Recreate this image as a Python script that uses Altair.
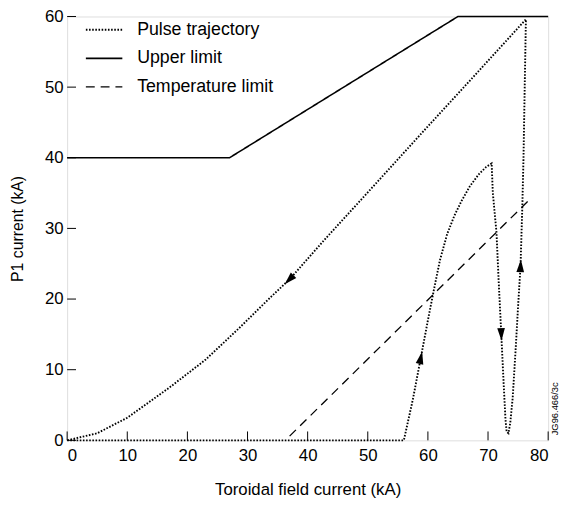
import altair as alt
import pandas as pd

# ---------------- data ----------------
series_names = ["Pulse trajectory", "Upper limit", "Temperature limit"]

# Pulse trajectory (closed loop, in drawing order)
traj_x = [0, 56, 57.5, 58.8, 60.0, 60.9, 62.0, 63.2, 64.4, 65.6, 67.0, 68.5, 69.7, 70.6,
          70.8, 71.4, 71.8, 72.2, 72.6, 72.9, 73.1, 73.4, 73.7, 74.1, 74.6, 75.0, 75.4,
          75.7, 75.9, 76.1, 76.3,
          67.5, 59.3, 50.0, 42.7, 37.0, 33.4, 28.5, 23.0, 16.9, 10.0, 5.0, 0]
traj_y = [0, 0, 5.8, 11.6, 17.0, 20.9, 25.5, 29.2, 31.8, 33.9, 36.0, 37.7, 38.7, 39.2,
          35.0, 29.5, 22.0, 15.1, 8.0, 3.0, 1.2, 1.0, 2.5, 6.0, 13.0, 19.0, 24.6,
          33.0, 40.0, 50.0, 59.6,
          51.4, 43.8, 35.1, 28.3, 22.8, 19.9, 15.8, 11.4, 7.4, 3.2, 1.0, 0]

upper_x = [0, 27, 65, 80]
upper_y = [40, 40, 60, 60]

temp_x = [37.0, 76.7]
temp_y = [0.6, 33.9]

arrow_x = [58.8, 72.2, 75.4, 37.0]
arrow_y = [11.6, 15.1, 24.6, 22.8]
arrow_angle = [12, 178, 3, 225]

x_ticks = [0, 10, 20, 30, 40, 50, 60, 70, 80]
y_ticks = [0, 10, 20, 30, 40, 50, 60]

code_label = "JG96.466/3c"

# ---------------- tables ----------------
rows = []
for i, (x, y) in enumerate(zip(traj_x, traj_y)):
    rows.append({"series": series_names[0], "x": x, "y": y, "o": i})
for i, (x, y) in enumerate(zip(upper_x, upper_y)):
    rows.append({"series": series_names[1], "x": x, "y": y, "o": i})
for i, (x, y) in enumerate(zip(temp_x, temp_y)):
    rows.append({"series": series_names[2], "x": x, "y": y, "o": i})
lines_df = pd.DataFrame(rows)
arrows_df = pd.DataFrame({"x": arrow_x, "y": arrow_y, "angle": arrow_angle})
xt_df = pd.DataFrame({"v": x_ticks})
yt_df = pd.DataFrame({"v": y_ticks})
code_df = pd.DataFrame({"t": [code_label]})

W, H = 488, 430
FONT = "Liberation Sans"

xscale = alt.Scale(domain=[0, 80], nice=False, zero=False)
yscale = alt.Scale(domain=[0, 60], nice=False, zero=False)

x_axis = alt.Axis(values=x_ticks, title="Toroidal field current (kA)", grid=False,
                  domain=False, ticks=False, labelPadding=7, titlePadding=19,
                  labelFontSize=17, titleFontSize=17, labelFont=FONT, titleFont=FONT,
                  labelColor="black", titleColor="black", titleFontWeight="normal")
y_axis = alt.Axis(values=y_ticks, title="P1 current (kA)", grid=False,
                  domain=False, ticks=False, labelPadding=4, titlePadding=19,
                  labelFontSize=17, titleFontSize=16, labelFont=FONT, titleFont=FONT,
                  labelColor="black", titleColor="black", titleFontWeight="normal")

lines = alt.Chart(lines_df).mark_line(color="black").encode(
    x=alt.X("x:Q", scale=xscale, axis=x_axis),
    y=alt.Y("y:Q", scale=yscale, axis=y_axis),
    detail="series:N",
    order="o:Q",
    strokeWidth=alt.StrokeWidth("series:N",
                                scale=alt.Scale(domain=series_names, range=[1.9, 1.3, 1.4]),
                                legend=None),
    strokeDash=alt.StrokeDash(
        "series:N",
        scale=alt.Scale(domain=series_names, range=[[1.6, 1.6], [1, 0], [9, 6]]),
        legend=alt.Legend(orient="none", legendX=18, legendY=-6, title=None,
                          symbolType="stroke", symbolSize=1369, symbolStrokeWidth=1.3,
                          symbolStrokeColor="black", labelFontSize=18, labelFont=FONT,
                          labelColor="black", labelOffset=14, rowPadding=-1),
    ),
)

arrows = alt.Chart(arrows_df).mark_point(
    shape="M0,-1L0.55,0.8L-0.55,0.8Z", filled=True, color="black", opacity=1, size=200
).encode(
    x=alt.X("x:Q", scale=xscale),
    y=alt.Y("y:Q", scale=yscale),
    angle=alt.Angle("angle:Q", scale=None),
)

xt = alt.Chart(xt_df).mark_rule(color="black", strokeWidth=1).encode(
    x=alt.X("v:Q", scale=xscale), y=alt.value(H), y2=alt.value(H - 9)
)
yt = alt.Chart(yt_df).mark_rule(color="black", strokeWidth=1).encode(
    y=alt.Y("v:Q", scale=yscale), x=alt.value(0), x2=alt.value(9)
)

code = alt.Chart(code_df).mark_text(
    angle=270, fontSize=9.5, font=FONT, color="black", align="center", baseline="middle"
).encode(text="t:N", x=alt.value(W + 7), y=alt.value(H - 32))

chart = alt.layer(lines, arrows, xt, yt, code).properties(
    width=W, height=H,
    autosize=alt.AutoSizeParams(type="none"),
    padding={"left": 60, "top": 5, "right": 11, "bottom": 63},
).configure_view(stroke="black", strokeWidth=1.3).configure(background="white")

chart.save("out.html", embed_options={"renderer": "svg", "actions": False})
